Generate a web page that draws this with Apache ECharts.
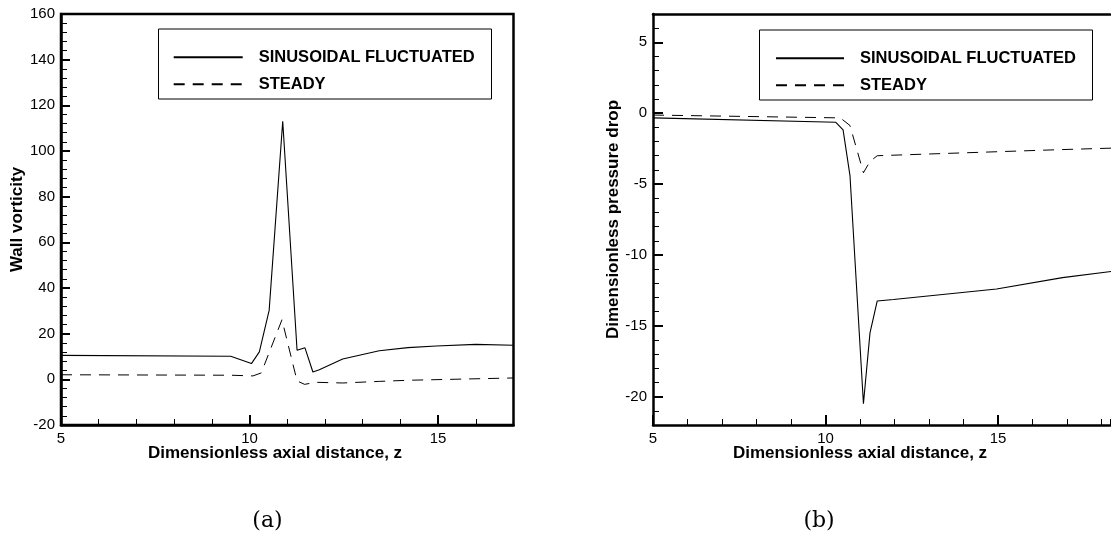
<!DOCTYPE html>
<html>
<head>
<meta charset="utf-8">
<script src="https://cdn.jsdelivr.net/npm/echarts@6/dist/echarts.min.js"></script>
<style>html,body{margin:0;padding:0;background:#fff}#c{width:1111px;height:538px}</style>
</head>
<body>
<div id="c"></div>
<script>
// ---- data ----
const seriesNames = ['SINUSOIDAL FLUCTUATED', 'STEADY'];
// (a) wall vorticity
const zSinA = [5, 9.5, 10.05, 10.26, 10.52, 10.88, 11.26, 11.47, 11.68, 11.85, 12.47, 13.44, 14.2, 14.95, 16, 17];
const sinA  = [10.5, 10.1, 6.9, 12, 30.2, 113, 12.7, 13.8, 3.2, 4.2, 8.9, 12.5, 13.9, 14.6, 15.3, 14.9];
const zStdA = [5, 9.5, 10.09, 10.31, 10.86, 11.26, 11.46, 11.76, 12.47, 13.44, 14.23, 17];
const stdA  = [2.0, 1.8, 1.5, 2.8, 26.1, -0.7, -2.2, -1.3, -1.6, -0.9, -0.4, 0.6];
// (b) pressure drop
const zSinB = [5, 10.3, 10.51, 10.71, 11.1, 11.29, 11.5, 11.97, 14.96, 16.87, 18.5];
const sinB  = [-0.33, -0.64, -1.18, -4.4, -20.5, -15.5, -13.25, -13.15, -12.4, -11.6, -11.1];
const zStdB = [5, 10.43, 10.71, 11.1, 11.29, 11.5, 16.8, 18.5];
const stdB  = [-0.13, -0.33, -0.87, -4.2, -3.4, -3.0, -2.57, -2.45];
// tick labels
const yTicksA = [-20, 0, 20, 40, 60, 80, 100, 120, 140, 160];
const yTicksB = [-20, -15, -10, -5, 0, 5];
const xTickStep = 5;
const yTitleA = 'Wall vorticity';
const yTitleB = 'Dimensionless pressure drop';
const xTitle = 'Dimensionless axial distance, z';
const captions = ['(a)', '(b)'];

const zip = (xs, ys) => xs.map((x, i) => [x, ys[i]]);

const gA = {left: 61, top: 14, width: 452.5, height: 411};
const gB = {left: 653, top: 14, width: 457.1, height: 411};
const xMaxA = 17, xMaxB = 18.25;

const labelFont = {color: '#000', fontFamily: 'Liberation Sans', fontSize: 15};
const mainLine = {show: true, onZero: false, lineStyle: {color: '#000', width: 2.5}};

function mainX(idx, max) {
  return {
    type: 'value', gridIndex: idx, min: 5, max: max, interval: xTickStep, position: 'bottom',
    axisLine: mainLine,
    axisTick: {show: true, inside: true, length: 10, lineStyle: {color: '#000', width: 2}},
    axisLabel: Object.assign({margin: 6, showMaxLabel: false}, labelFont),
    splitLine: {show: false}
  };
}
function minorAxis(idx, min, max, interval) {
  return {
    type: 'value', gridIndex: idx, min: min, max: max, interval: interval,
    axisLine: {show: false, onZero: false},
    axisTick: {show: true, inside: true, length: 6, lineStyle: {color: '#000', width: 1}},
    axisLabel: {show: false},
    splitLine: {show: false}
  };
}

const nameStyle = {color: '#000', fontFamily: 'Liberation Sans', fontSize: 17, fontWeight: 'bold'};
const legendText = {color: '#000', fontFamily: 'Liberation Sans', fontSize: 16.5, fontWeight: 'bold', lineHeight: 16, padding: [0, 0, 0, 11]};

const option = {
  animation: false,
  backgroundColor: '#fff',
  grid: [
    Object.assign({show: true, borderColor: '#000', borderWidth: 2.5, containLabel: false}, gA),
    Object.assign({show: false, containLabel: false}, gB),
    Object.assign({show: false}, gA),
    Object.assign({show: false}, gB)
  ],
  xAxis: [
    mainX(0, xMaxA),
    mainX(1, xMaxB),
    minorAxis(2, 5, xMaxA, 1),
    minorAxis(3, 5, xMaxB, 1),
    {
      type: 'value', gridIndex: 1, min: 5, max: xMaxB, position: 'top',
      axisLine: mainLine, axisTick: {show: false}, axisLabel: {show: false}, splitLine: {show: false}
    }
  ],
  yAxis: [
    {
      type: 'value', gridIndex: 0, min: -20, max: 160, interval: 20,
      name: yTitleA, nameLocation: 'middle', nameGap: 35, nameTextStyle: nameStyle,
      axisLine: mainLine,
      axisTick: {show: true, inside: true, length: 9, lineStyle: {color: '#000', width: 2}, customValues: yTicksA},
      axisLabel: Object.assign({margin: 6, customValues: yTicksA}, labelFont),
      splitLine: {show: false}
    },
    {
      type: 'value', gridIndex: 1, min: -22, max: 7,
      name: yTitleB, nameLocation: 'middle', nameGap: 30, nameTextStyle: nameStyle,
      axisLine: mainLine,
      axisTick: {show: true, inside: true, length: 10, lineStyle: {color: '#000', width: 2}, customValues: yTicksB},
      axisLabel: Object.assign({margin: 6, customValues: yTicksB}, labelFont),
      splitLine: {show: false}
    },
    minorAxis(2, -20, 160, 4),
    minorAxis(3, -22, 7, 1)
  ],
  legend: [
    {
      left: 172.7, top: 48.7, orient: 'vertical', padding: 0, itemGap: 10,
      itemWidth: 69, itemHeight: 16, selectedMode: false,
      itemStyle: {opacity: 0},
      data: seriesNames, textStyle: legendText
    },
    {
      left: 775, top: 49.7, orient: 'vertical', padding: 0, itemGap: 10,
      itemWidth: 68, itemHeight: 16, selectedMode: false,
      itemStyle: {opacity: 0},
      data: seriesNames, textStyle: legendText
    }
  ],
  graphic: [
    {type: 'rect', shape: {x: 158.5, y: 29, width: 333, height: 70}, style: {fill: 'none', stroke: '#000', lineWidth: 1}, z: 1},
    {type: 'rect', shape: {x: 759.5, y: 30, width: 333, height: 70}, style: {fill: 'none', stroke: '#000', lineWidth: 1}, z: 1},
    {type: 'text', x: 275, y: 453, style: {text: xTitle, font: 'bold 17px "Liberation Sans"', fill: '#000', align: 'center', verticalAlign: 'middle'}},
    {type: 'text', x: 860, y: 453, style: {text: xTitle, font: 'bold 17px "Liberation Sans"', fill: '#000', align: 'center', verticalAlign: 'middle'}},
    {type: 'text', x: 267.5, y: 521, style: {text: captions[0], font: '22px "DejaVu Serif"', fill: '#000', align: 'center', verticalAlign: 'middle'}},
    {type: 'text', x: 819, y: 521, style: {text: captions[1], font: '22px "DejaVu Serif"', fill: '#000', align: 'center', verticalAlign: 'middle'}}
  ],
  series: [
    {name: seriesNames[0], type: 'line', xAxisIndex: 0, yAxisIndex: 0, data: zip(zSinA, sinA), symbol: 'none', lineStyle: {color: '#000', width: 1.1}, itemStyle: {color: '#000'}},
    {name: seriesNames[1], type: 'line', xAxisIndex: 0, yAxisIndex: 0, data: zip(zStdA, stdA), symbol: 'none', lineStyle: {color: '#000', width: 1, type: [11, 8]}, itemStyle: {color: '#000'}},
    {name: seriesNames[0], type: 'line', xAxisIndex: 1, yAxisIndex: 1, data: zip(zSinB, sinB), symbol: 'none', lineStyle: {color: '#000', width: 1.1}, itemStyle: {color: '#000'}},
    {name: seriesNames[1], type: 'line', xAxisIndex: 1, yAxisIndex: 1, data: zip(zStdB, stdB), symbol: 'none', lineStyle: {color: '#000', width: 1, type: [11, 8]}, itemStyle: {color: '#000'}}
  ]
};
const chart = echarts.init(document.getElementById('c'), null, {renderer: 'canvas'});
chart.setOption(option);
</script>
</body>
</html>
